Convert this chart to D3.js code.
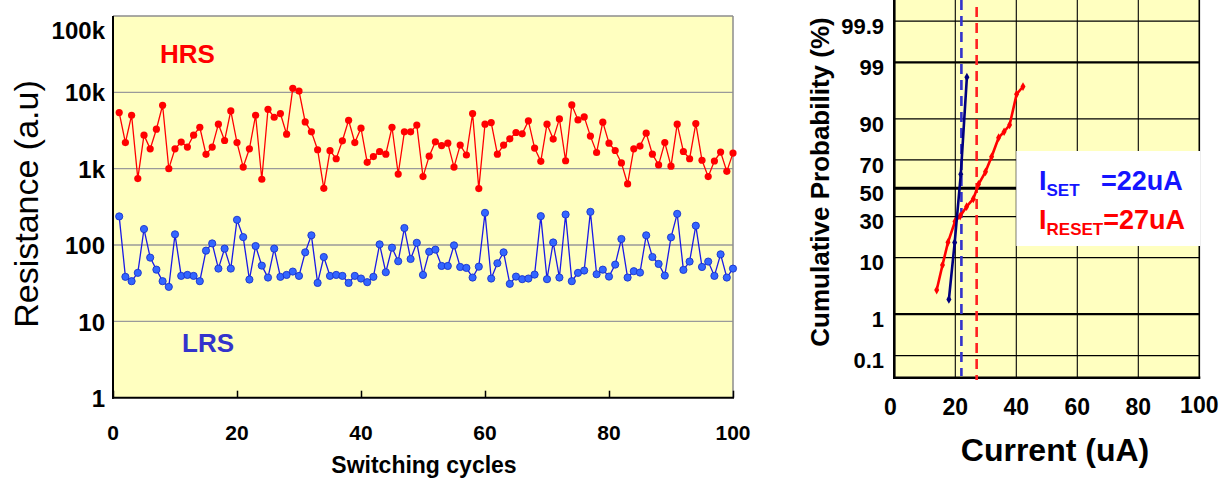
<!DOCTYPE html>
<html><head><meta charset="utf-8">
<script src="https://cdn.jsdelivr.net/npm/d3@7"></script>
<style>
html,body{margin:0;padding:0;background:#fff;}
svg{display:block;font-family:"Liberation Sans",Arial,Helvetica,sans-serif;}
</style></head><body>
<svg id="chart" width="1231" height="479"></svg>
<script>
// ---- Endurance: resistance per switching cycle ----
const cycles = d3.range(1, 101);
const hrsValues = [
  5430,2200,5010,741,2750,1820,3290,6770,1000,1820,
  2230,1920,2750,3490,1540,1920,3830,2340,5710,2200,
  1050,1820,5010,727,6000,4720,5270,2830,11280,10400,
  4100,3040,1770,553,1720,1350,2320,4310,2200,3390,
  1210,1440,1680,1550,3490,851,3040,3040,3720,787,
  1460,2250,2010,2160,1050,2040,1510,5270,548,3830,
  4020,1550,2040,2460,2980,2860,4230,1860,1250,3830,
  2440,4490,1270,6840,4350,4770,2670,1630,4070,2160,
  1730,1190,631,1820,1980,2920,1550,1120,2200,1080,
  3830,1680,1350,3900,1290,787,1260,1650,922,1600];
const lrsValues = [
  237,38.3,33.6,43.2,162,68.4,47.6,33.6,28.3,138,
  39.4,40.6,39.4,33.6,84.4,105,49.1,89.6,49.1,214,
  127,35.3,97,53.7,37.5,89.6,38.3,40.6,44.9,39.4,
  80.2,134,31.9,69.7,39.4,40.6,39.4,31.9,39.4,36.4,
  32.6,38.3,102,44,92.3,61.3,167,65.6,107,40.6,
  81.8,87,53.2,53.2,99,51.6,50.1,37.5,52.1,264,
  36.4,57.7,80.2,31,38.6,35.7,36.4,41,239,35.7,
  108,37.5,251,33.6,43.2,46.3,272,41.4,47.6,38.6,
  55.4,120,37.5,45.4,43.6,134,69.7,56.5,39.8,126,
  256,47.2,60.7,179,51.6,60.7,39.4,75.5,37.5,49.1];
const resTicks = [1, 10, 100, 1000, 10000, 100000];
const resTickLabels = ["1", "10", "100", "1k", "10k", "100k"];
const cycleTicks = [0, 20, 40, 60, 80, 100];

// ---- Cumulative distribution of switching currents ----
const setCurrent = [17.9, 19.8, 21.8, 23.8];
const setProb = [2.0, 15.8, 60.2, 98.0];
const resetCurrent = [13.9, 15.8, 17.6, 19.9, 21.6, 23.7, 25.9, 27.6, 29.9, 31.9, 34.2, 36.0, 37.8, 40.1, 42.2];
const resetProb = [3.0, 7.8, 15.9, 27.0, 30.4, 36.7, 42.2, 52.9, 62.0, 72.0, 82.5, 85.2, 87.9, 95.9, 97.0];
const probTicks = [0.1, 1, 10, 30, 50, 70, 90, 99, 99.9];
const probTickLabels = ["0.1", "1", "10", "30", "50", "70", "90", "99", "99.9"];
const currentTicks = [0, 20, 40, 60, 80, 100];
const iSet = 22, iReset = 27;

// inverse of the standard normal CDF (Acklam's rational approximation)
function probit(p) {
  const a = [-3.969683028665376e+01, 2.209460984245205e+02, -2.759285104469687e+02, 1.383577518672690e+02, -3.066479806614716e+01, 2.506628277459239e+00];
  const b = [-5.447609879822406e+01, 1.615858368580409e+02, -1.556989798598866e+02, 6.680131188771972e+01, -1.328068155288572e+01];
  const c = [-7.784894002430293e-03, -3.223964580411365e-01, -2.400758277161838e+00, -2.549732539343734e+00, 4.374664141464968e+00, 2.938163982698783e+00];
  const d = [7.784695709041462e-03, 3.224671290700398e-01, 2.445134137142996e+00, 3.754408661907416e+00];
  const pl = 0.02425, ph = 1 - pl;
  let q, r;
  if (p < pl) {
    q = Math.sqrt(-2 * Math.log(p));
    return (((((c[0]*q+c[1])*q+c[2])*q+c[3])*q+c[4])*q+c[5]) / ((((d[0]*q+d[1])*q+d[2])*q+d[3])*q+1);
  }
  if (p <= ph) {
    q = p - 0.5; r = q * q;
    return (((((a[0]*r+a[1])*r+a[2])*r+a[3])*r+a[4])*r+a[5])*q / (((((b[0]*r+b[1])*r+b[2])*r+b[3])*r+b[4])*r+1);
  }
  q = Math.sqrt(-2 * Math.log(1 - p));
  return -(((((c[0]*q+c[1])*q+c[2])*q+c[3])*q+c[4])*q+c[5]) / ((((d[0]*q+d[1])*q+d[2])*q+d[3])*q+1);
}

const svg = d3.select("#chart");
const FILL = "#ffffc0";

// =================== left panel ===================
const L = {x0: 113, x1: 733, y0: 16, y1: 397.7};
const xL = d3.scaleLinear([0, 100], [L.x0, L.x1]);
const yL = d3.scaleLog([1, 1e5], [L.y1, L.y0]);

const left = svg.append("g");
left.append("rect").attr("x", L.x0).attr("y", L.y0)
  .attr("width", L.x1 - L.x0).attr("height", L.y1 - L.y0).attr("fill", FILL);

// horizontal decade gridlines
left.append("g").selectAll("line").data(resTicks.slice(1, -1)).join("line")
  .attr("x1", L.x0).attr("x2", L.x1)
  .attr("y1", d => yL(d)).attr("y2", d => yL(d))
  .attr("stroke", "#9a9a9a").attr("stroke-width", 1.3);

// frame: grey top/right, black left/bottom
left.append("line").attr("x1", L.x0).attr("x2", L.x1).attr("y1", L.y0).attr("y2", L.y0).attr("stroke", "#8c8c8c").attr("stroke-width", 1.5);
left.append("line").attr("x1", L.x1).attr("x2", L.x1).attr("y1", L.y0).attr("y2", L.y1).attr("stroke", "#8c8c8c").attr("stroke-width", 1.5);
left.append("line").attr("x1", L.x0).attr("x2", L.x0).attr("y1", L.y0).attr("y2", L.y1 + 1).attr("stroke", "#000").attr("stroke-width", 2);
left.append("line").attr("x1", L.x0 - 1).attr("x2", L.x1 + 1).attr("y1", L.y1).attr("y2", L.y1).attr("stroke", "#000").attr("stroke-width", 2);

// x ticks (inward) and labels
const xAxisL = left.append("g").attr("transform", `translate(0,${L.y1})`)
  .call(d3.axisTop(xL).tickValues(cycleTicks).tickSize(7).tickFormat(""));
xAxisL.select(".domain").remove();
xAxisL.selectAll("line").attr("stroke", "#000").attr("stroke-width", 1.5);

left.append("g").selectAll("text").data(cycleTicks).join("text")
  .attr("x", d => xL(d)).attr("y", 439.5)
  .attr("text-anchor", "middle").attr("font-weight", "bold").attr("font-size", 21)
  .text(d => d);

// y tick labels
const yAxisL = left.append("g").attr("transform", `translate(${L.x0 - 8},0)`)
  .call(d3.axisLeft(yL).tickValues(resTicks).tickSize(0).tickPadding(0)
    .tickFormat((d, i) => resTickLabels[i]));
yAxisL.select(".domain").remove();
yAxisL.selectAll("text")
  .attr("font-family", "Liberation Sans, Arial, sans-serif")
  .attr("font-weight", "bold").attr("font-size", 24).attr("fill", "#000")
  .attr("dy", d => d === 1e5 ? "0.95em" : "0.36em");

// series
const lineL = vals => d3.line().x((d, i) => xL(cycles[i])).y(d => yL(d))(vals);
left.append("path").attr("d", lineL(hrsValues)).attr("fill", "none").attr("stroke", "#ff0000").attr("stroke-width", 1.3);
left.append("g").selectAll("circle").data(hrsValues).join("circle")
  .attr("cx", (d, i) => xL(cycles[i])).attr("cy", d => yL(d)).attr("r", 3.6)
  .attr("fill", "#ff0000");
left.append("path").attr("d", lineL(lrsValues)).attr("fill", "none").attr("stroke", "#1a1ae6").attr("stroke-width", 1.3);
left.append("g").selectAll("circle").data(lrsValues).join("circle")
  .attr("cx", (d, i) => xL(cycles[i])).attr("cy", d => yL(d)).attr("r", 3.6)
  .attr("fill", "#3366ff").attr("stroke", "#1a33cc").attr("stroke-width", 0.9);

left.append("text").attr("x", 160).attr("y", 63).attr("fill", "#ff0000")
  .attr("font-weight", "bold").attr("font-size", 26).text("HRS");
left.append("text").attr("x", 182).attr("y", 352).attr("fill", "#3333cc")
  .attr("font-weight", "bold").attr("font-size", 26).text("LRS");

left.append("text").attr("transform", "translate(26,204) rotate(-90)")
  .attr("text-anchor", "middle").attr("dominant-baseline", "central")
  .attr("font-size", 34).text("Resistance (a.u)");
left.append("text").attr("x", 424).attr("y", 473)
  .attr("text-anchor", "middle").attr("font-weight", "bold").attr("font-size", 23)
  .text("Switching cycles");

// =================== right panel ===================
const R = {x0: 894.3, x1: 1199.3, y0: -1.1, y1: 377.7};
const xR = d3.scaleLinear([0, 100], [R.x0, R.x1]);
const zR = d3.scaleLinear([-3.5, 3.5], [R.y1, R.y0]);
const yR = p => zR(probit(p / 100));

const right = svg.append("g");
right.append("rect").attr("x", R.x0).attr("y", R.y0)
  .attr("width", R.x1 - R.x0).attr("height", R.y1 - R.y0).attr("fill", FILL);

// vertical gridlines
right.append("g").selectAll("line").data(currentTicks.slice(1)).join("line")
  .attr("x1", d => xR(d)).attr("x2", d => xR(d)).attr("y1", R.y0).attr("y2", R.y1)
  .attr("stroke", "#000").attr("stroke-width", d => d === 100 ? 1.6 : 1.1);

// horizontal probability gridlines (heavier at 1, 50, 99)
const gridWidth = p => p === 50 ? 3 : (p === 1 || p === 99) ? 2.2 : 1.2;
right.append("g").selectAll("line").data(probTicks).join("line")
  .attr("x1", R.x0).attr("x2", R.x1)
  .attr("y1", d => yR(d)).attr("y2", d => yR(d))
  .attr("stroke", "#000").attr("stroke-width", gridWidth);

// legend box, starting on the 40 uA gridline
right.append("rect").attr("x", xR(40)).attr("y", 151)
  .attr("width", 184).attr("height", 95).attr("fill", "#fff");

// axes frame
right.append("line").attr("x1", R.x0).attr("x2", R.x0).attr("y1", R.y0).attr("y2", R.y1 + 1.3).attr("stroke", "#000").attr("stroke-width", 2.6);
right.append("line").attr("x1", R.x0 - 1.3).attr("x2", R.x1 + 1).attr("y1", R.y1).attr("y2", R.y1).attr("stroke", "#000").attr("stroke-width", 2.6);

// median current markers
right.append("line").attr("x1", xR(iSet)).attr("x2", xR(iSet)).attr("y1", 0).attr("y2", 376)
  .attr("stroke", "#3333cc").attr("stroke-width", 2.6).attr("stroke-dasharray", "10,6");
right.append("line").attr("x1", xR(iReset)).attr("x2", xR(iReset)).attr("y1", 7).attr("y2", 380)
  .attr("stroke", "#ff2020").attr("stroke-width", 2.6).attr("stroke-dasharray", "10,6");

// distributions
const lineR = (xs, ps) => d3.line().x((d, i) => xR(xs[i])).y(d => yR(d))(ps);
const diamond = d3.symbol().type(d3.symbolDiamond).size(22);
right.append("path").attr("d", lineR(resetCurrent, resetProb)).attr("fill", "none")
  .attr("stroke", "#ff0000").attr("stroke-width", 2.6).attr("stroke-linejoin", "round");
right.append("g").selectAll("path").data(resetProb).join("path")
  .attr("d", diamond).attr("transform", (d, i) => `translate(${xR(resetCurrent[i])},${yR(d)})`)
  .attr("fill", "#ff0000");
right.append("path").attr("d", lineR(setCurrent, setProb)).attr("fill", "none")
  .attr("stroke", "#00007f").attr("stroke-width", 2.6).attr("stroke-linejoin", "round");
right.append("g").selectAll("path").data(setProb).join("path")
  .attr("d", diamond).attr("transform", (d, i) => `translate(${xR(setCurrent[i])},${yR(d)})`)
  .attr("fill", "#00007f");

// tick labels
const yAxisR = right.append("g").attr("transform", `translate(884,0)`)
  .call(d3.axisLeft(zR).tickValues(probTicks.map(p => probit(p / 100))).tickSize(0).tickPadding(0)
    .tickFormat((d, i) => probTickLabels[i]));
yAxisR.select(".domain").remove();
yAxisR.selectAll("text")
  .attr("font-family", "Liberation Sans, Arial, sans-serif")
  .attr("font-weight", "bold").attr("font-size", 22).attr("fill", "#000").attr("dy", "0.55em");

right.append("g").selectAll("text").data(currentTicks).join("text")
  .attr("x", d => xR(d) - (d === 0 ? 4 : 0)).attr("y", d => d === 100 ? 413 : 415)
  .attr("text-anchor", "middle").attr("font-weight", "bold").attr("font-size", 23)
  .text(d => d);

right.append("text").attr("transform", "translate(820,182) rotate(-90)")
  .attr("text-anchor", "middle").attr("dominant-baseline", "central")
  .attr("font-weight", "bold").attr("font-size", 26).text("Cumulative Probability (%)");
right.append("text").attr("x", 1055).attr("y", 461)
  .attr("text-anchor", "middle").attr("font-weight", "bold").attr("font-size", 32)
  .text("Current (uA)");

// legend text
const t1 = right.append("text").attr("x", 1039).attr("y", 189.5).attr("fill", "#1414ff")
  .attr("font-weight", "bold").attr("font-size", 27);
t1.append("tspan").text("I");
t1.append("tspan").attr("font-size", 17).attr("dy", 6).text("SET");
t1.append("tspan").attr("x", 1101).attr("dy", -6).text(`=${iSet}uA`);
const t2 = right.append("text").attr("x", 1039).attr("y", 229).attr("fill", "#ff0000")
  .attr("font-weight", "bold").attr("font-size", 27);
t2.append("tspan").text("I");
t2.append("tspan").attr("font-size", 17).attr("dy", 6).text("RESET");
t2.append("tspan").attr("dy", -6).text(`=${iReset}uA`);
</script>
</body></html>
